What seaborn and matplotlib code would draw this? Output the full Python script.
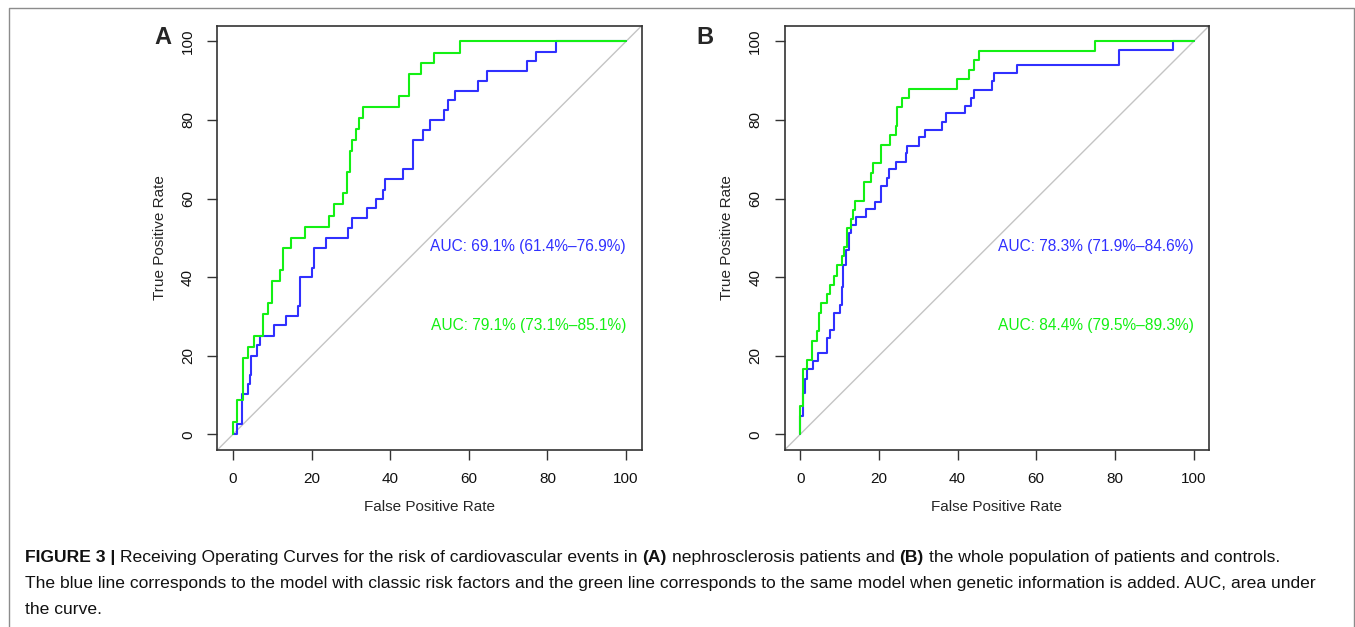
# ROC curves, two panels (A: nephrosclerosis patients, B: whole population)
import numpy as np
import pandas as pd
import seaborn as sns
import matplotlib.pyplot as plt
from matplotlib.lines import Line2D

# ==============================
# DATA (in %)
# ==============================
a_fpr_classic = [0, 1.1, 1.1, 2.2, 3.7, 4.3, 4.5, 6.2, 6.9, 10.5, 13.5, 16.5, 17.0, 20.2,
                 20.6, 23.7, 29.3, 30.2, 34.0, 36.4, 38.1, 38.7, 43.2, 45.9, 48.3, 50.0,
                 53.7, 54.8, 56.5, 62.4, 64.6, 74.7, 77.0, 82.3, 100]
a_tpr_classic = [0, 0, 2.5, 10.2, 12.7, 15.2, 20.0, 22.6, 25.1, 27.7, 30.2, 32.6, 40.0, 42.3,
                 47.5, 49.9, 52.5, 55.0, 57.5, 59.9, 62.2, 65.0, 67.4, 74.9, 77.5, 80.0,
                 82.5, 85.0, 87.4, 89.8, 92.4, 94.9, 97.3, 100, 100]

a_fpr_genetic = [0, 0, 1.1, 2.5, 3.7, 5.4, 7.7, 8.8, 9.8, 12.0, 12.8, 14.8, 18.3, 24.3,
                 25.8, 27.9, 28.9, 29.8, 30.4, 31.2, 32.1, 33.2, 42.2, 44.9, 47.8, 51.1,
                 57.8, 100]
a_tpr_genetic = [0, 3.0, 8.6, 19.5, 22.3, 25.0, 30.5, 33.4, 38.9, 41.7, 47.3, 49.9, 52.7, 55.5,
                 58.5, 61.3, 66.7, 72.0, 74.9, 77.8, 80.5, 83.3, 86.2, 91.8, 94.5, 97.1,
                 100, 100]

b_fpr_classic = [0, 0, 0.6, 1.1, 1.6, 3.3, 4.6, 6.9, 7.6, 8.6, 10.1, 10.5, 10.9, 11.7, 12.4,
                 12.8, 14.1, 16.6, 18.9, 20.6, 22.0, 22.6, 24.3, 26.8, 27.2, 30.2, 31.6,
                 36.1, 37.1, 42.0, 43.5, 44.2, 48.8, 49.2, 55.0, 81.0, 94.8, 100]
b_tpr_classic = [0, 4.7, 10.6, 14.0, 16.5, 18.6, 20.7, 24.5, 26.6, 30.9, 32.8, 37.6, 43.0,
                 47.0, 51.2, 53.3, 55.2, 57.3, 59.2, 63.2, 65.3, 67.4, 69.4, 71.6, 73.4,
                 75.6, 77.4, 79.5, 81.7, 83.6, 85.7, 87.6, 89.8, 91.9, 93.9, 97.9, 100, 100]

b_fpr_genetic = [0, 0, 0.8, 1.6, 3.1, 4.2, 4.8, 5.4, 6.9, 7.5, 8.6, 9.3, 10.7, 11.0, 11.8,
                 12.8, 13.3, 13.8, 16.2, 17.9, 18.6, 20.5, 22.8, 24.3, 24.7, 25.9, 27.6,
                 39.8, 42.9, 44.3, 45.4, 74.9, 100]
b_tpr_genetic = [0, 7.2, 16.5, 19.0, 23.7, 26.2, 30.9, 33.4, 35.8, 38.1, 40.4, 43.0, 45.3,
                 47.6, 52.4, 54.7, 57.1, 59.5, 64.1, 66.6, 69.0, 73.6, 76.1, 78.4, 83.3,
                 85.7, 88.0, 90.4, 92.8, 95.2, 97.5, 100, 100]

auc_a = ["AUC: 69.1% (61.4%\u201376.9%)", "AUC: 79.1% (73.1%\u201385.1%)"]
auc_b = ["AUC: 78.3% (71.9%\u201384.6%)", "AUC: 84.4% (79.5%\u201389.3%)"]
ticks = [0, 20, 40, 60, 80, 100]

caption_line1 = [("FIGURE 3 |", "bold"),
                 ("Receiving Operating Curves for the risk of cardiovascular events in", "normal"),
                 ("(A)", "bold"),
                 ("nephrosclerosis patients and", "normal"),
                 ("(B)", "bold"),
                 ("the whole population of patients and controls.", "normal")]
caption_line2 = ("The blue line corresponds to the model with classic risk factors and the green "
                 "line corresponds to the same model when genetic information is added. AUC, area under")
caption_line3 = "the curve."

BLUE = "#3030FF"
GREEN = "#14F014"
palette = {"classic": BLUE, "genetic": GREEN}

# ==============================
# STYLE
# ==============================
sns.set_style("ticks", {"axes.edgecolor": "#333333"})
plt.rcParams['font.family'] = ['Liberation Sans', 'DejaVu Sans']

W, H = 1355, 627
fig = plt.figure(figsize=(W / 100, H / 100), dpi=100)


def px_box(left, top, right, bottom):
    return [left / W, 1 - bottom / H, (right - left) / W, (bottom - top) / H]


ax_a = fig.add_axes(px_box(217.3, 25.7, 641.7, 450))
ax_b = fig.add_axes(px_box(784.5, 25.7, 1209.3, 450))


def draw_panel(ax, fpr_c, tpr_c, fpr_g, tpr_g, auc_texts):
    df = pd.concat([
        pd.DataFrame({"fpr": fpr_c, "tpr": tpr_c, "model": "classic"}),
        pd.DataFrame({"fpr": fpr_g, "tpr": tpr_g, "model": "genetic"}),
    ])
    ax.axline((0, 0), (100, 100), color="#C4C4C4", lw=1.0, zorder=1)
    sns.lineplot(data=df, x="fpr", y="tpr", hue="model", palette=palette,
                 estimator=None, sort=False, drawstyle="steps-post",
                 lw=1.5, legend=False, ax=ax)
    ax.set_xlim(-4, 104)
    ax.set_ylim(-4, 104)
    ax.set_xticks(ticks)
    ax.set_yticks(ticks)
    ax.tick_params(length=7, width=1, color="#333333", labelsize=11, pad=9,
                   labelcolor="#111111")
    plt.setp(ax.get_yticklabels(), rotation=90, va="center")
    for sp in ax.spines.values():
        sp.set_linewidth(1.2)
    ax.set_xlabel("False Positive Rate", fontsize=11)
    ax.set_ylabel("True Positive Rate", fontsize=11)
    ax.xaxis.set_label_coords(0.5, -(507 - 450) / 424.3)
    ax.xaxis.label.set_va("center")
    ax.yaxis.set_label_coords(-(217.3 - 160) / 424.4, 0.5)
    ax.yaxis.label.set_va("center")
    ax.text(100, 47.8, auc_texts[0], color=BLUE, fontsize=11.2, ha="right", va="center")
    ax.text(100, 27.8, auc_texts[1], color=GREEN, fontsize=11.2, ha="right", va="center")


draw_panel(ax_a, a_fpr_classic, a_tpr_classic, a_fpr_genetic, a_tpr_genetic, auc_a)
draw_panel(ax_b, b_fpr_classic, b_tpr_classic, b_fpr_genetic, b_tpr_genetic, auc_b)

# panel letters
fig.text(163 / W, 1 - 37 / H, "A", fontsize=17, fontweight="bold", ha="center", va="center")
fig.text(705 / W, 1 - 37 / H, "B", fontsize=17, fontweight="bold", ha="center", va="center")

# outer frame (top, left, right)
frame = Line2D([9 / W, 9 / W, 1354 / W, 1354 / W], [0, 1 - 8 / H, 1 - 8 / H, 0],
               transform=fig.transFigure, color="#8C8C8C", lw=1.0)
fig.add_artist(frame)

# ==============================
# CAPTION
# ==============================
cap_size = 12.6
space_px = 0.278 * cap_size * 100 / 72
renderer = fig.canvas.get_renderer()
x = 25
for piece, weight in caption_line1:
    t = fig.text(x / W, 1 - 562 / H, piece, fontsize=cap_size, fontweight=weight,
                 ha="left", va="baseline", color="#111111")
    bb = t.get_window_extent(renderer)
    x = bb.x1 + space_px

fig.text(25 / W, 1 - 588 / H, caption_line2, fontsize=cap_size, ha="left", va="baseline",
         color="#111111")
fig.text(25 / W, 1 - 614 / H, caption_line3, fontsize=cap_size, ha="left", va="baseline",
         color="#111111")

fig.savefig("out.png", dpi=100)
